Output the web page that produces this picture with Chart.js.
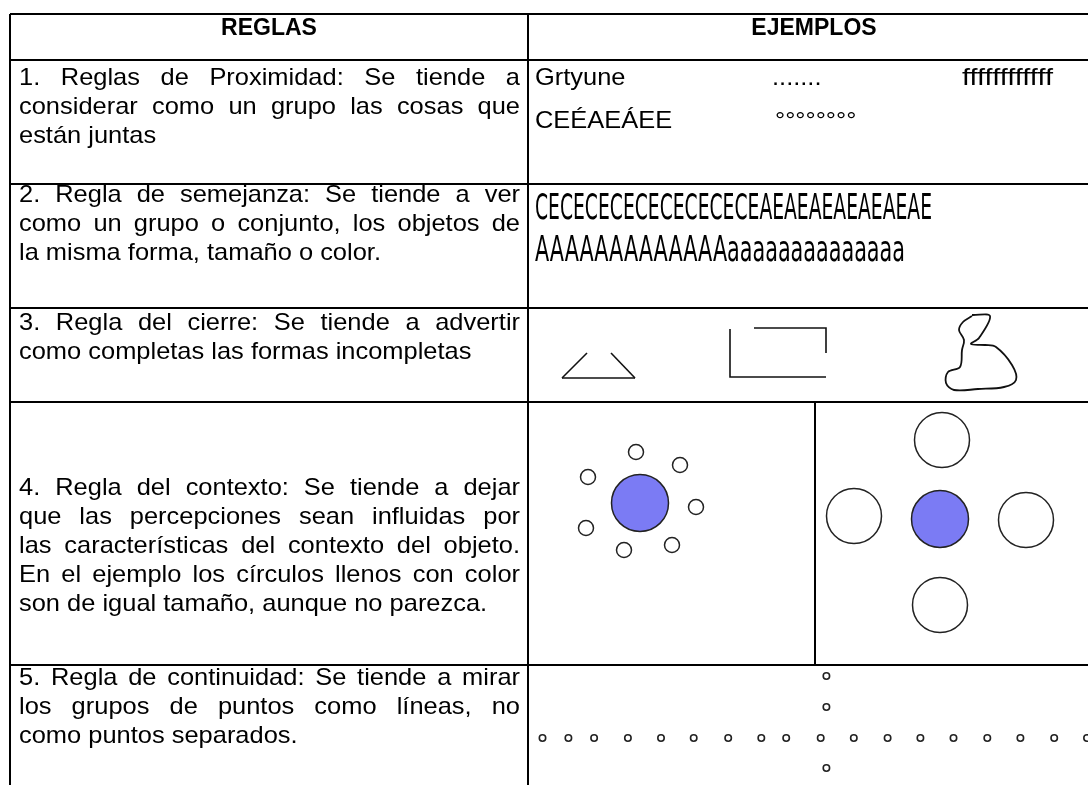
<!DOCTYPE html>
<html><head><meta charset="utf-8">
<script src="https://cdn.jsdelivr.net/npm/chart.js@4.4.1/dist/chart.umd.min.js"></script>
<style>html,body{margin:0;padding:0;background:#fff;}canvas{display:block;}</style>
</head><body>
<canvas id="c" width="1088" height="785"></canvas>
<script>
// ---------- content ----------
const headers = ["REGLAS", "EJEMPLOS"];
const rule1 = ["1. Reglas de Proximidad: Se tiende a", "considerar como un grupo las cosas que", "están juntas"];
const rule2 = ["2. Regla de semejanza: Se tiende a ver", "como un grupo o conjunto, los objetos de", "la misma forma, tamaño o color."];
const rule3 = ["3. Regla del cierre: Se tiende a advertir", "como completas las formas incompletas"];
const rule4 = ["4. Regla del contexto: Se tiende a dejar", "que las percepciones sean influidas por", "las características del contexto del objeto.", "En el ejemplo los círculos llenos con color", "son de igual tamaño, aunque no parezca."];
const rule5 = ["5. Regla de continuidad: Se tiende a mirar", "los grupos de puntos como líneas, no", "como puntos separados."];
const proximityTexts = ["Grtyune", ".......", "ffffffffffff", "CEÉAEÁEE", "°°°°°°°°"];
const similarityTexts = ["CECECECECECECECECEAEAEAEAEAEAEAE", "AAAAAAAAAAAAAaaaaaaaaaaaaaa"];

// table structure (x of column edges, y of row edges)
const colEdges = [10, 528, 1100];
const rowEdges = [14, 60, 184, 308, 402, 665, 800];
const contextSplitX = 815;

// closure shapes (open polylines)
const triangleLeft = [{x:562,y:378},{x:587,y:353}];
const triangleRight = [{x:611,y:353},{x:635,y:378}];
const triangleBase = [{x:562,y:378},{x:635,y:378}];
const rectOpen = [{x:730,y:329},{x:730,y:377},{x:826,y:377}];
const rectTop = [{x:754,y:328},{x:826,y:328},{x:826,y:353}];
const scribble = [{x:972,y:315},{x:990,y:316},{x:979,y:338},{x:971,y:344},{x:985,y:345},{x:996,y:347},{x:1012,y:365},{x:1016,y:380},{x:1004,y:387},{x:978,y:389},{x:954,y:390},{x:946,y:383},{x:948,y:372},{x:960,y:367},{x:962,y:350},{x:964,y:340},{x:959,y:330},{x:963,y:322},{x:972,y:316}];

// context circles
const ctxLeftSmall = [{x:636,y:452},{x:680,y:465},{x:588,y:477},{x:696,y:507},{x:586,y:528},{x:672,y:545},{x:624,y:550}];
const ctxLeftBig = [{x:640,y:503}];
const ctxRightOpen = [{x:942,y:440},{x:854,y:516},{x:1026,y:520},{x:940,y:605}];
const ctxRightFilled = [{x:940,y:519}];

// continuity dots
const contRow = [542.5,568.4,594.1,627.9,661.0,693.7,728.2,761.3,786.2,820.7,853.8,887.6,920.4,953.5,987.3,1020.4,1054.2,1087.0].map(x=>({x:x,y:738}));
const contCol = [676,707,768].map(y=>({x:826.4,y:y}));

// ---------- datasets ----------
const BLACK = '#000';
const datasets = [];
function seg(points, width, color, tension){
  datasets.push({type:'line', data:points, showLine:true, borderColor:color||BLACK, borderWidth:width||2,
    pointRadius:0, fill:false, tension:tension||0, order:5});
}
rowEdges.forEach(y=>seg([{x:colEdges[0],y:y},{x:colEdges[2],y:y}],2));
colEdges.forEach(x=>seg([{x:x,y:rowEdges[0]},{x:x,y:rowEdges[rowEdges.length-1]}],2));
seg([{x:contextSplitX,y:rowEdges[4]},{x:contextSplitX,y:rowEdges[5]}],2);
[triangleLeft, triangleRight, triangleBase, rectOpen, rectTop].forEach(p=>seg(p,1.6,'#111'));
seg(scribble,1.8,'#111',0.35);
datasets.push({type:'scatter', data:ctxLeftSmall, pointRadius:7.5, pointBorderWidth:1.5, pointBorderColor:'#222', pointBackgroundColor:'#fff', order:1});
datasets.push({type:'scatter', data:ctxLeftBig, pointRadius:28.5, pointBorderWidth:1.5, pointBorderColor:'#222', pointBackgroundColor:'#7b7bf4', order:1});
datasets.push({type:'scatter', data:ctxRightOpen, pointRadius:27.5, pointBorderWidth:1.5, pointBorderColor:'#222', pointBackgroundColor:'#fff', order:1});
datasets.push({type:'scatter', data:ctxRightFilled, pointRadius:28.5, pointBorderWidth:1.5, pointBorderColor:'#222', pointBackgroundColor:'#7b7bf4', order:1});
datasets.push({type:'scatter', data:contRow.concat(contCol), pointRadius:3.2, pointBorderWidth:1.6, pointBorderColor:'#222', pointBackgroundColor:'#fff', order:1});

// ---------- text plugin ----------
const FAM = '"Liberation Sans", Arial, Helvetica, sans-serif';
const HX = 1.06;
const PITCH = 29;
const ruleBlocks = [[rule1,85],[rule2,202],[rule3,330],[rule4,495],[rule5,685]];

const textPlugin = {
  id:'tableText',
  afterDatasetsDraw(chart){
    const c = chart.ctx, sx = chart.scales.x, sy = chart.scales.y;
    const px = v=>sx.getPixelForValue(v), py = v=>sy.getPixelForValue(v);
    c.save();
    c.fillStyle = '#000';
    c.textBaseline = 'alphabetic';
    function draw(text, x, y, font, hx, align){
      c.font = font;
      const w = c.measureText(text).width*hx;
      let X = px(x);
      if (align==='center') X -= w/2;
      c.save(); c.translate(X, py(y)); c.scale(hx,1); c.fillText(text,0,0); c.restore();
    }
    function fit(text, x, y, font, width){
      c.font = font;
      const w = c.measureText(text).width;
      c.save(); c.translate(px(x), py(y)); c.scale((px(x+width)-px(x))/w,1); c.fillText(text,0,0); c.restore();
    }
    function justify(line, x0, x1, y, font, hx){
      c.font = font;
      const words = line.split(' ');
      const ww = words.map(w=>c.measureText(w).width*hx);
      const total = ww.reduce((a,b)=>a+b,0);
      const gap = (px(x1)-px(x0)-total)/(words.length-1);
      let X = px(x0);
      words.forEach((w,i)=>{
        c.save(); c.translate(X, py(y)); c.scale(hx,1); c.fillText(w,0,0); c.restore();
        X += ww[i]+gap;
      });
    }
    const body = '24px '+FAM;
    draw(headers[0], (colEdges[0]+colEdges[1])/2, 35, 'bold 23px '+FAM, 1.0, 'center');
    draw(headers[1], (colEdges[1]+colEdges[2])/2, 35, 'bold 23px '+FAM, 1.0, 'center');
    ruleBlocks.forEach(([lines, top])=>{
      lines.forEach((ln,i)=>{
        const y = top + i*PITCH;
        if (i < lines.length-1) justify(ln, 19, 520, y, body, HX);
        else draw(ln, 19, y, body, HX);
      });
    });
    draw(proximityTexts[0], 535, 85, body, HX);
    draw(proximityTexts[1], 772, 85, body, HX);
    fit(proximityTexts[2], 962, 85, body, 91);
    draw(proximityTexts[3], 535, 128, body, HX);
    draw(proximityTexts[4], 775, 128, body, HX);
    const cond = '36px "Liberation Sans Narrow", "DejaVu Sans Condensed", "Roboto Condensed", '+FAM;
    fit(similarityTexts[0], 535, 219, cond, 397);
    fit(similarityTexts[1], 535, 261, cond, 370);
    c.restore();
  }
};

new Chart(document.getElementById('c'), {
  type:'scatter',
  data:{datasets:datasets},
  options:{
    responsive:false, animation:false, events:[],
    layout:{padding:0, autoPadding:false},
    plugins:{legend:{display:false}, tooltip:{enabled:false}},
    scales:{
      x:{type:'linear', min:0, max:1088, display:false},
      y:{type:'linear', min:0, max:785, reverse:true, display:false}
    }
  },
  plugins:[textPlugin]
});
</script>
</body></html>
